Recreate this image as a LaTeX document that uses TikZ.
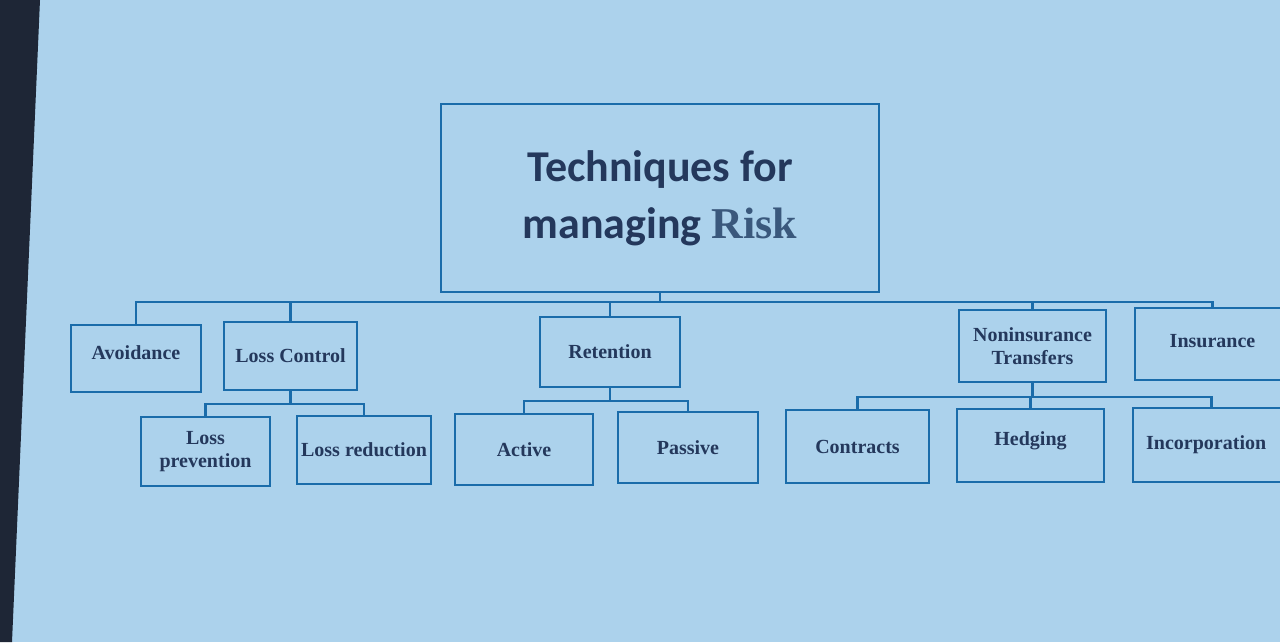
\documentclass[tikz,border=0pt]{standalone}
\usepackage{fontspec}
\setmainfont{Liberation Serif}
\newfontfamily\titlefont{Carlito}
\definecolor{screen}{RGB}{172,210,236}
\definecolor{bezel}{RGB}{30,38,54}
\definecolor{boxline}{RGB}{26,108,170}
\definecolor{ink}{RGB}{36,56,92}
\definecolor{riskink}{RGB}{58,88,124}
\tikzset{
  box/.style={draw=boxline, line width=2pt, inner sep=0pt, align=center,
              font=\bfseries\fontsize{15}{17}\selectfont, text=ink},
  conn/.style={draw=boxline, line width=2pt},
}
\newcommand\bx[6]{\node[box, minimum width={(#4-#2)*0.75pt}, minimum height={(#5-#3)*0.75pt}] (#1) at ({(#2+#4)/2},{(#3+#5)/2}) {#6};}
\begin{document}
\begin{tikzpicture}[x=0.75pt,y=-0.75pt]
\clip (0,0) rectangle (1280,642);
\fill[screen] (0,0) rectangle (1280,642);
\fill[bezel] (0,0) -- (40,0) -- (12,642) -- (0,642) -- cycle;

% top
\node[box, minimum width={438*0.75pt}, minimum height={188*0.75pt}, text=ink,
      font=\titlefont\bfseries\fontsize{33}{43}\selectfont] (title) at (660,198)
  {Techniques for\\managing {\rmfamily\bfseries\color{riskink}Risk}};

% level 1
\bx{avoid}{71}{325}{201}{392}{\raisebox{9pt}{Avoidance}}
\bx{lc}{224}{322}{357}{390}{Loss Control}
\bx{ret}{540}{317}{680}{387}{Retention}
\bx{nt}{959}{310}{1106}{382}{Noninsurance\\Transfers}
\bx{ins}{1135}{308}{1290}{380}{\raisebox{5pt}{Insurance}}

% level 2
\bx{lp}{141}{417}{270}{486}{Loss\\prevention}
\bx{lr}{297}{416}{431}{484}{Loss reduction}
\bx{act}{455}{414}{593}{485}{Active}
\bx{pas}{618}{412}{758}{483}{Passive}
\bx{con}{786}{410}{929}{483}{Contracts}
\bx{hed}{957}{409}{1104}{482}{\raisebox{11pt}{Hedging}}
\bx{inc}{1133}{408}{1290}{482}{\hspace*{-8pt}Incorporation}

% buses
\coordinate (bus) at (0,302);
\coordinate (lcbus) at (0,404);
\coordinate (retbus) at (0,401);
\coordinate (ntbus) at (0,397);

\draw[conn] (title.south) -- (title.south |- bus);
\draw[conn] (avoid.north) -- (avoid.north |- bus) -- (ins.north |- bus) -- (ins.north);
\draw[conn] (lc.north) -- (lc.north |- bus);
\draw[conn] (ret.north) -- (ret.north |- bus);
\draw[conn] (nt.north) -- (nt.north |- bus);

\draw[conn] (lc.south) -- (lc.south |- lcbus);
\draw[conn] (lp.north) -- (lp.north |- lcbus) -- (lr.north |- lcbus) -- (lr.north);

\draw[conn] (ret.south) -- (ret.south |- retbus);
\draw[conn] (act.north) -- (act.north |- retbus) -- (pas.north |- retbus) -- (pas.north);

\draw[conn] (nt.south) -- (nt.south |- ntbus);
\draw[conn] (con.north) -- (con.north |- ntbus) -- (inc.north |- ntbus) -- (inc.north);
\draw[conn] (hed.north) -- (hed.north |- ntbus);
\end{tikzpicture}
\end{document}
